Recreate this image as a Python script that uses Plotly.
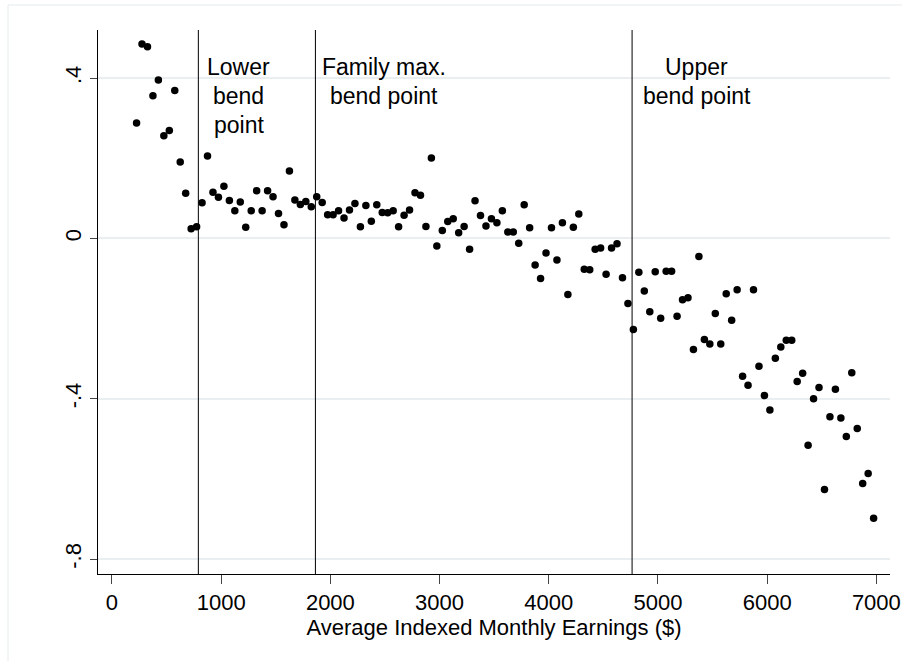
import plotly.graph_objects as go

# Average Indexed Monthly Earnings bins ($)
aime = [225, 275, 325, 375, 425, 475, 525, 575, 625, 675,
        725, 775, 825, 875, 925, 975, 1025, 1075, 1125, 1175,
        1225, 1275, 1325, 1375, 1425, 1475, 1525, 1575, 1625, 1675,
        1725, 1775, 1825, 1875, 1925, 1975, 2025, 2075, 2125, 2175,
        2225, 2275, 2325, 2375, 2425, 2475, 2525, 2575, 2625, 2675,
        2725, 2775, 2825, 2875, 2925, 2975, 3025, 3075, 3125, 3175,
        3225, 3275, 3325, 3375, 3425, 3475, 3525, 3575, 3625, 3675,
        3725, 3775, 3825, 3875, 3925, 3975, 4025, 4075, 4125, 4175,
        4225, 4275, 4325, 4375, 4425, 4475, 4525, 4575, 4625, 4675,
        4725, 4775, 4825, 4875, 4925, 4975, 5025, 5075, 5125, 5175,
        5225, 5275, 5325, 5375, 5425, 5475, 5525, 5575, 5625, 5675,
        5725, 5775, 5825, 5875, 5925, 5975, 6025, 6075, 6125, 6175,
        6225, 6275, 6325, 6375, 6425, 6475, 6525, 6575, 6625, 6675,
        6725, 6775, 6825, 6875, 6925, 6975]

effect = [0.288, 0.485, 0.478, 0.356, 0.395, 0.256, 0.269, 0.369, 0.191, 0.113,
          0.024, 0.029, 0.089, 0.206, 0.115, 0.103, 0.130, 0.095, 0.069, 0.091,
          0.028, 0.069, 0.119, 0.069, 0.119, 0.104, 0.062, 0.034, 0.168, 0.096,
          0.085, 0.092, 0.079, 0.104, 0.090, 0.059, 0.059, 0.069, 0.051, 0.071,
          0.087, 0.029, 0.082, 0.043, 0.084, 0.065, 0.064, 0.069, 0.029, 0.058,
          0.071, 0.114, 0.108, 0.030, 0.201, -0.019, 0.020, 0.042, 0.049, 0.014,
          0.030, -0.027, 0.094, 0.057, 0.031, 0.049, 0.039, 0.069, 0.016, 0.016,
          -0.012, 0.084, 0.027, -0.066, -0.100, -0.036, 0.027, -0.054, 0.039, -0.140,
          0.028, 0.061, -0.077, -0.078, -0.027, -0.024, -0.089, -0.024, -0.013, -0.098,
          -0.162, -0.227, -0.084, -0.131, -0.183, -0.083, -0.199, -0.082, -0.082, -0.194,
          -0.153, -0.148, -0.277, -0.045, -0.252, -0.263, -0.187, -0.263, -0.138, -0.204,
          -0.128, -0.344, -0.366, -0.128, -0.319, -0.392, -0.428, -0.299, -0.271, -0.254,
          -0.254, -0.357, -0.336, -0.516, -0.400, -0.372, -0.626, -0.445, -0.376, -0.448,
          -0.494, -0.335, -0.474, -0.611, -0.586, -0.698]

bend_points = [791, 1863, 4763]
label_x = [1163, 2491, 5357]
label_lines = [["Lower", "bend", "point"],
               ["Family max.", "bend point"],
               ["Upper", "bend point"]]

x_ticks = [0, 1000, 2000, 3000, 4000, 5000, 6000, 7000]
x_ticktext = ["0", "1000", "2000", "3000", "4000", "5000", "6000", "7000"]
y_ticks = [-0.8, -0.4, 0, 0.4]
y_ticktext = ["-.8", "-.4", "0", ".4"]

FONT = "Liberation Sans, Arial, Helvetica, sans-serif"
GRID = "#e9eff1"

fig = go.Figure()
fig.add_trace(go.Scatter(
    x=aime, y=effect, mode="markers",
    marker=dict(color="black", size=7.5, line=dict(width=0)),
    showlegend=False, hoverinfo="skip", cliponaxis=False))

shapes = []
for bp in bend_points:
    shapes.append(dict(type="line", xref="x", yref="paper", x0=bp, x1=bp,
                       y0=0, y1=1, line=dict(color="black", width=1), layer="above"))
# faint outer graph-region frame
shapes.append(dict(type="rect", xref="paper", yref="paper",
                   x0=-0.1136, x1=1.2, y0=-0.3, y1=1.046,
                   line=dict(color="#e6ecee", width=1), layer="below"))

annotations = []
line_y0 = 0.428
line_step = 0.073
for lx, lines in zip(label_x, label_lines):
    for k, t in enumerate(lines):
        annotations.append(dict(x=lx, y=line_y0 - k * line_step, xref="x", yref="y",
                                text=t, showarrow=False, xanchor="center",
                                yanchor="middle",
                                font=dict(family=FONT, size=23, color="black")))

fig.update_layout(
    width=902, height=661,
    margin=dict(l=98, r=12, t=30, b=87, autoexpand=False),
    paper_bgcolor="white", plot_bgcolor="white",
    font=dict(family=FONT, size=22, color="black"),
    shapes=shapes, annotations=annotations,
    xaxis=dict(range=[-128, 7125], tickvals=x_ticks, ticktext=x_ticktext,
               automargin=False,
               showgrid=False, zeroline=False, showline=True, linecolor="black",
               linewidth=1, ticks="outside", ticklen=9, tickcolor="#444",
               tickwidth=1, tickfont=dict(family=FONT, size=22, color="black"),
               title=dict(text="Average Indexed Monthly Earnings ($)",
                          font=dict(family=FONT, size=22, color="black"),
                          standoff=2)),
    yaxis=dict(range=[-0.837, 0.520], tickvals=y_ticks, ticktext=y_ticktext,
               automargin=False,
               showgrid=True, gridcolor=GRID, gridwidth=1.5, zeroline=False,
               showline=True, linecolor="black", linewidth=1,
               ticks="outside", ticklen=7, tickcolor="#444", tickwidth=1,
               tickangle=-90, tickfont=dict(family=FONT, size=22, color="black")),
)

fig.write_html(
    "out.html",
    config={"displayModeBar": False},
    post_script="document.body.style.margin='0';document.body.style.overflow='hidden';",
)
